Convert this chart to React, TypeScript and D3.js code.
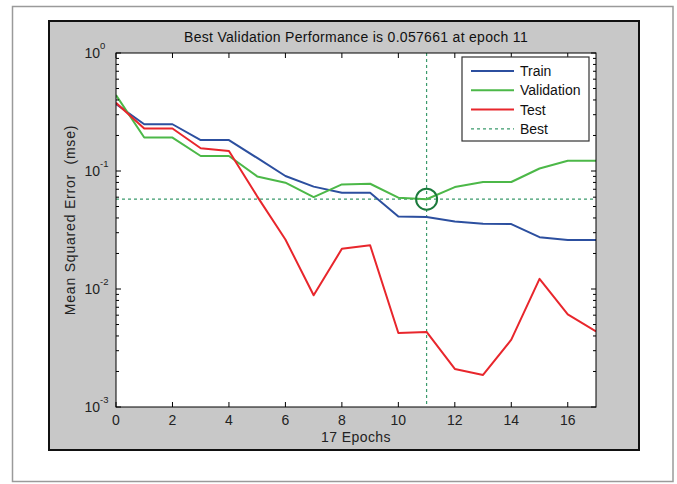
import React from "react";
import * as d3 from "d3";

const epochs = [0, 1, 2, 3, 4, 5, 6, 7, 8, 9, 10, 11, 12, 13, 14, 15, 16, 17];
const trainValues = [0.369, 0.249, 0.249, 0.183, 0.183, 0.129, 0.0907, 0.0737, 0.0655, 0.0655, 0.0412, 0.0408, 0.0374, 0.0357, 0.0355, 0.0275, 0.026, 0.026];
const validationValues = [0.44, 0.192, 0.192, 0.134, 0.134, 0.09, 0.0796, 0.0601, 0.077, 0.078, 0.0594, 0.057661, 0.0731, 0.0807, 0.0807, 0.105, 0.122, 0.122];
const testValues = [0.378, 0.229, 0.229, 0.156, 0.148, 0.061, 0.0263, 0.00885, 0.0219, 0.0235, 0.00424, 0.00433, 0.0021, 0.00187, 0.00372, 0.0122, 0.0061, 0.00437];
const xTicks = [0, 2, 4, 6, 8, 10, 12, 14, 16];
const yDecades = [-3, -2, -1, 0];
const bestEpoch = 11;
const bestValue = 0.057661;
const legendLabels = ["Train", "Validation", "Test", "Best"];
const titleText = "Best Validation Performance is 0.057661 at epoch 11";
const xLabel = "17 Epochs";
const yLabel = "Mean Squared Error  (mse)";

const FONT = "'Liberation Sans', Arial, Helvetica, sans-serif";
const BLUE = "#2c4f9f";
const GREEN = "#4cb848";
const RED = "#e8262c";
const BEST = "#3b9a6c";
const FS = 14;

export default function App() {
  const W = 677, H = 484;
  const L = 116, R = 596, T = 53, B = 407;
  const x = d3.scaleLinear().domain([0, 17]).range([L, R]);
  const y = d3.scaleLog().domain([1e-3, 1]).range([B, T]);
  const line = d3
    .line<number>()
    .x((_, i) => x(epochs[i]))
    .y((d) => y(d));

  const minorTicks: number[] = [];
  for (let e = -3; e < 0; e++) {
    for (let k = 2; k <= 9; k++) minorTicks.push(k * Math.pow(10, e));
  }

  const series = [
    { values: trainValues, color: BLUE },
    { values: validationValues, color: GREEN },
    { values: testValues, color: RED },
  ];

  const legendX = 462, legendY = 57, legendW = 127, legendH = 84;
  const legendColors = [BLUE, GREEN, RED, BEST];

  return (
    <svg width={W} height={H} style={{ position: "absolute", left: 0, top: 0 }} fontFamily={FONT}>
      <rect x={0} y={0} width={W} height={H} fill="#ffffff" />
      <rect x={12.5} y={6.5} width={660.5} height={475} fill="#ffffff" stroke="#9a9a9a" strokeWidth={1.5} />
      <rect x={49} y={21} width={590} height={429} fill="#c8c8c8" stroke="#111" strokeWidth={2} />
      <rect x={L} y={T} width={R - L} height={B - T} fill="#ffffff" />

      <clipPath id="plotClip">
        <rect x={L} y={T} width={R - L} height={B - T} />
      </clipPath>

      <g clipPath="url(#plotClip)">
        <line x1={x(bestEpoch)} x2={x(bestEpoch)} y1={T} y2={B} stroke={BEST} strokeWidth={1.2} strokeDasharray="3,3" />
        <line x1={L} x2={R} y1={y(bestValue)} y2={y(bestValue)} stroke={BEST} strokeWidth={1.2} strokeDasharray="3,3" />
        {series.map((s, i) => (
          <path key={i} d={line(s.values) || ""} fill="none" stroke={s.color} strokeWidth={2} strokeLinejoin="round" />
        ))}
        <circle cx={x(bestEpoch)} cy={y(bestValue)} r={10.5} fill="none" stroke="#1b7a3c" strokeWidth={2} />
      </g>

      <rect x={L} y={T} width={R - L} height={B - T} fill="none" stroke="#000" strokeWidth={1} />

      {xTicks.map((t) => (
        <g key={"x" + t}>
          <line x1={x(t)} x2={x(t)} y1={B} y2={B - 5} stroke="#000" strokeWidth={1} />
          <line x1={x(t)} x2={x(t)} y1={T} y2={T + 5} stroke="#000" strokeWidth={1} />
          <text x={x(t)} y={B + 18} fontSize={FS} textAnchor="middle" fill="#222">
            {t}
          </text>
        </g>
      ))}

      {yDecades.map((e) => {
        const yy = y(Math.pow(10, e));
        return (
          <g key={"y" + e}>
            <line x1={L} x2={L + 5} y1={yy} y2={yy} stroke="#000" strokeWidth={1} />
            <line x1={R} x2={R - 5} y1={yy} y2={yy} stroke="#000" strokeWidth={1} />
            <text x={L - 16} y={yy + 5} fontSize={FS} textAnchor="end" fill="#222">
              10
            </text>
            <text x={L - 16} y={yy - 4} fontSize={9.5} textAnchor="start" fill="#222">
              {e}
            </text>
          </g>
        );
      })}
      {minorTicks.map((v, i) => (
        <g key={"m" + i}>
          <line x1={L} x2={L + 3} y1={y(v)} y2={y(v)} stroke="#000" strokeWidth={1} />
          <line x1={R} x2={R - 3} y1={y(v)} y2={y(v)} stroke="#000" strokeWidth={1} />
        </g>
      ))}

      <text x={(L + R) / 2} y={42} fontSize={FS} letterSpacing={0.3} textAnchor="middle" fill="#111" style={{ whiteSpace: "pre" }}>
        {titleText}
      </text>
      <text x={(L + R) / 2} y={442} fontSize={FS} letterSpacing={0.4} textAnchor="middle" fill="#222">
        {xLabel}
      </text>
      <text
        transform={`translate(75, 220) rotate(-90)`}
        fontSize={FS}
        letterSpacing={0.8}
        textAnchor="middle"
        fill="#222"
        style={{ whiteSpace: "pre" }}
      >
        {yLabel}
      </text>

      <rect x={legendX} y={legendY} width={legendW} height={legendH} fill="#ffffff" stroke="#333" strokeWidth={1.2} />
      {legendLabels.map((lab, i) => {
        const ly = legendY + 14 + i * 19.3;
        return (
          <g key={lab}>
            <line
              x1={471}
              x2={514}
              y1={ly}
              y2={ly}
              stroke={legendColors[i]}
              strokeWidth={i === 3 ? 1.2 : 2}
              strokeDasharray={i === 3 ? "3,3" : undefined}
            />
            <text x={520} y={ly + 5} fontSize={FS} fill="#111">
              {lab}
            </text>
          </g>
        );
      })}
    </svg>
  );
}
